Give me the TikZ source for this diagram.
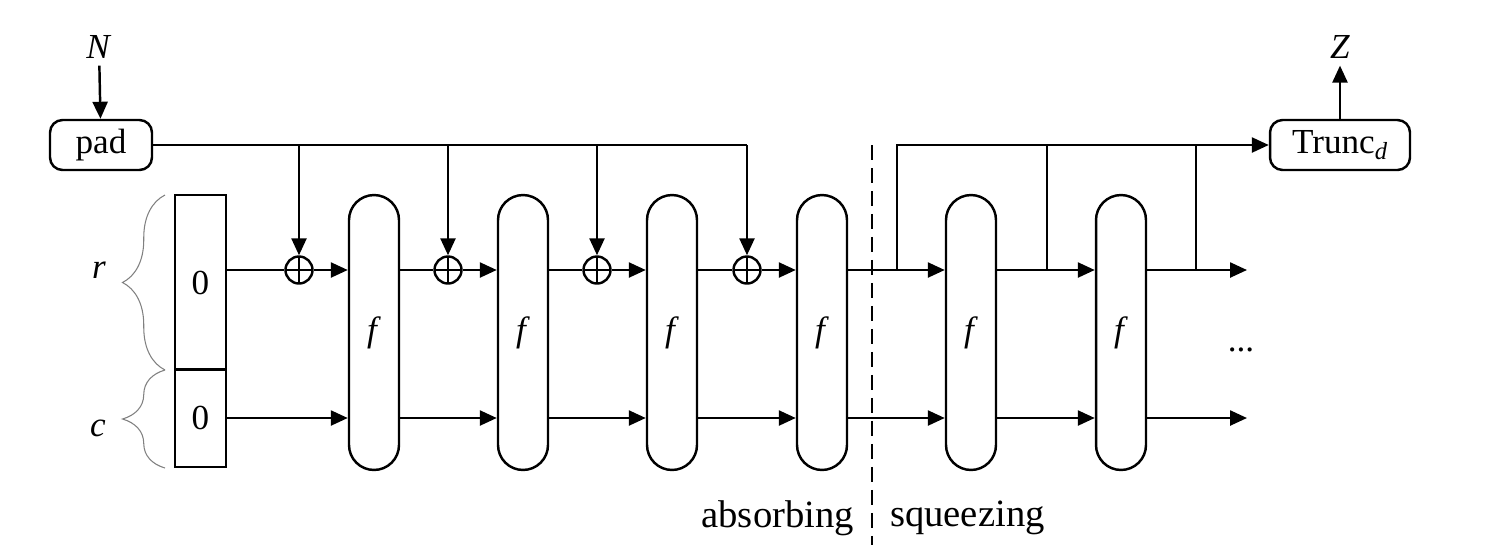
\documentclass[tikz,border=0pt]{standalone}
\usepackage{fontspec}
\setmainfont{Liberation Serif}
\usetikzlibrary{arrows.meta,decorations.pathreplacing}

\begin{document}
\begin{tikzpicture}[
  x=0.02cm, y=-0.02cm,
  font=\fontsize{20}{24}\selectfont,
  line width=1.4pt,
  box/.style={draw, rounded corners=0.25cm, minimum height=1cm, inner sep=2pt},
  cell/.style={draw, minimum width=1.02cm, inner sep=0pt},
  perm/.style={draw, rounded corners=0.5cm, minimum width=1cm, minimum height=5.5cm, inner sep=0pt},
  xor/.style={draw, circle, minimum size=0.54cm, inner sep=0pt,
    path picture={\draw (path picture bounding box.north) -- (path picture bounding box.south)
      (path picture bounding box.west) -- (path picture bounding box.east);}},
  flow/.style={-{Triangle[length=0.34cm, width=0.3cm]}},
  phase/.style={dash pattern=on 0.3cm off 0.16cm},
  brace/.style={decorate, decoration={brace, amplitude=0.85cm}, gray, line width=0.6pt}
]
\useasboundingbox (0,0) rectangle (1500,559);

% input and output
\node (N) at (99,47) {\textit{N}};
\node[box, minimum width=2.04cm] (pad) at (101,145) {pad};
\node[box, minimum width=2.8cm] (trunc) at (1340,145) {Trunc\textsubscript{\itshape d}};
\node (Z) at (1340,47) {\textit{Z}};
\draw[flow] (N) -- (pad);
\draw[flow] (trunc) -- (Z);

% state
\node[cell, minimum height=3.5cm] (rate) at (200.5,282.5) {0};
\node[cell, minimum height=1.96cm] (capa) at (200.5,418) {0};
\draw[brace] (165,370) -- (165,195);
\draw[brace] (165,468) -- (165,370);
\node (r) at (99,270) {\textit{r}};
\node (c) at (98,428) {\textit{c}};

% permutations
\node[perm] (f1) at (374,332.5) {\textit{f}};
\node[perm] (f2) at (523,332.5) {\textit{f}};
\node[perm] (f3) at (672,332.5) {\textit{f}};
\node[perm] (f4) at (822,332.5) {\textit{f}};
\node[perm] (f5) at (971,332.5) {\textit{f}};
\node[perm] (f6) at (1121,332.5) {\textit{f}};

\node[xor] (x1) at (299,270) {};
\node[xor] (x2) at (448,270) {};
\node[xor] (x3) at (597,270) {};
\node[xor] (x4) at (747,270) {};

% absorbing
\draw (pad) -- (x4 |- pad);
\foreach \i in {1,...,4}
  \draw[flow] (x\i |- pad) -- (x\i);
\draw (rate.east |- x1) -- (x1);
\draw[flow] (x1) -- (f1.west |- x1);
\draw (f1.east |- x2) -- (x2);
\draw[flow] (x2) -- (f2.west |- x2);
\draw (f2.east |- x3) -- (x3);
\draw[flow] (x3) -- (f3.west |- x3);
\draw (f3.east |- x4) -- (x4);
\draw[flow] (x4) -- (f4.west |- x4);
\draw[flow] (capa) -- (f1.west |- capa);
\draw[flow] (f1.east |- capa) -- (f2.west |- capa);
\draw[flow] (f2.east |- capa) -- (f3.west |- capa);
\draw[flow] (f3.east |- capa) -- (f4.west |- capa);

% squeezing
\coordinate (b1) at (897,270);
\coordinate (b2) at (1047,270);
\coordinate (b3) at (1196,270);
\coordinate (o1) at (1247,270);
\coordinate (o2) at (1247,418);
\draw[flow] (f4.east |- x4) -- (f5.west |- x4);
\draw[flow] (f5.east |- x4) -- (f6.west |- x4);
\draw[flow] (f6.east |- x4) -- (o1);
\draw[flow] (f4.east |- capa) -- (f5.west |- capa);
\draw[flow] (f5.east |- capa) -- (f6.west |- capa);
\draw[flow] (f6.east |- capa) -- (o2);
\draw[flow] (b1) |- (trunc);
\draw (b2) -- (b2 |- trunc);
\draw (b3) -- (b3 |- trunc);
\node (more) at (1241,350) {...};

% phases
\coordinate (top) at (872,145);
\coordinate (bot) at (872,545);
\draw[phase] (top) -- (bot);
\node[anchor=east, font=\fontsize{22}{26}\selectfont] (absorb) at (861,518) {absorbing};
\node[anchor=west, font=\fontsize{22}{26}\selectfont] (squeeze) at (883,518) {squeezing};
\end{tikzpicture}
\end{document}
